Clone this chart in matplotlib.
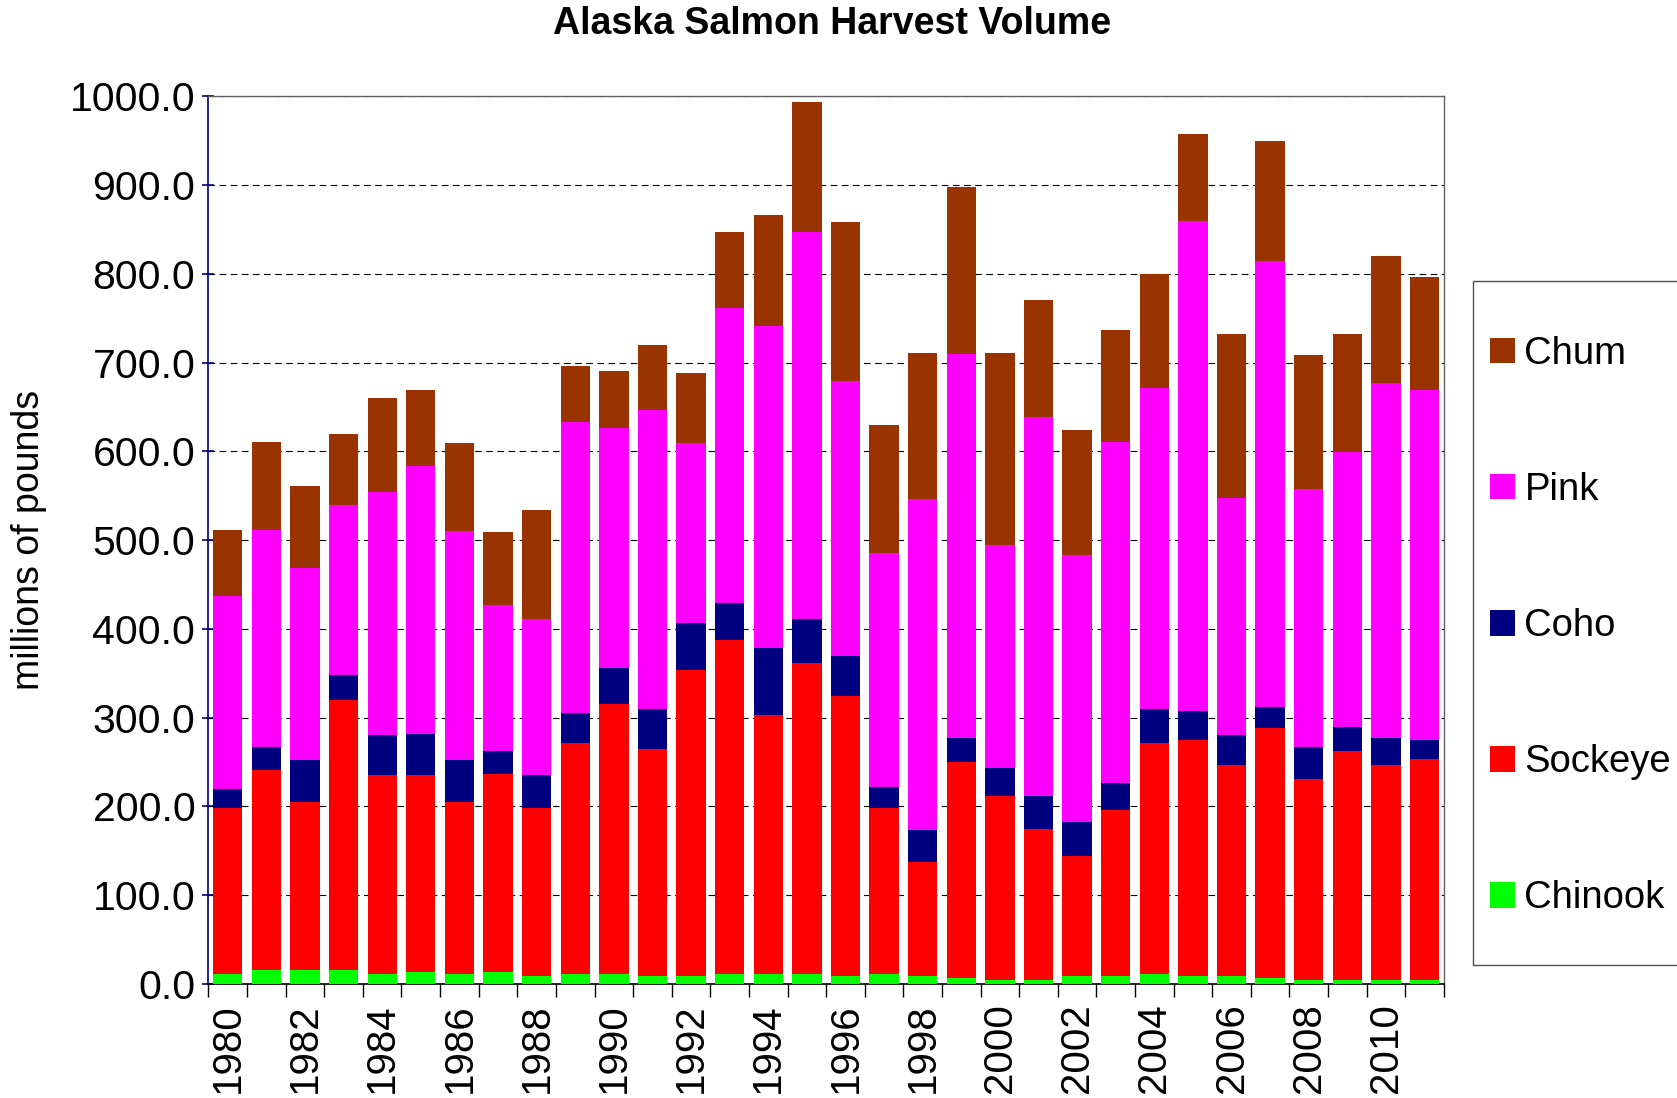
"""
Alaska salmon harvest volume, 1980-2011.
Stacked bars, one per year and one segment per species,
in millions of pounds.
"""

import matplotlib
matplotlib.use("Agg")
import matplotlib.pyplot as plt
from matplotlib.patches import Patch, Rectangle
from matplotlib.ticker import MultipleLocator

plt.rcParams['font.family'] = ['Liberation Sans', 'DejaVu Sans']

years = list(range(1980, 2012))

# millions of pounds per species
chinook = [11, 16, 16, 16, 11, 14, 11, 14, 9, 11, 11, 9, 9, 11, 11, 11,
           9, 11, 9, 7, 5, 5, 9, 9, 11, 9, 9, 7, 5, 5, 5, 5]
sockeye = [187, 225, 189, 304, 224, 221, 194, 223, 189, 260, 304, 256, 345, 377, 292, 351,
           315, 187, 128, 243, 207, 170, 135, 187, 260, 266, 238, 281, 226, 258, 242, 249]
coho = [22, 26, 47, 28, 45, 47, 47, 26, 37, 34, 41, 45, 53, 41, 75, 49,
        45, 24, 37, 27, 31, 37, 38, 31, 39, 32, 33, 24, 36, 27, 30, 21]
pink = [217, 244, 217, 192, 274, 302, 258, 164, 176, 328, 270, 337, 202, 332, 363, 436,
        310, 264, 372, 433, 251, 427, 301, 384, 361, 553, 268, 503, 291, 309, 400, 394]
chum = [74, 100, 92, 80, 106, 85, 99, 82, 123, 63, 64, 73, 79, 86, 125, 147,
        179, 144, 165, 188, 217, 131, 141, 126, 129, 98, 184, 135, 151, 133, 143, 127]

species = ["Chinook", "Sockeye", "Coho", "Pink", "Chum"]
colors = ["#00FF00", "#FF0000", "#000080", "#FF00FF", "#993300"]


def draw_stacked(ax, series):
    """Stack each species on top of the previous ones."""
    x = list(range(len(years)))
    bottom = [0] * len(years)
    for vals, col in zip(series, colors):
        ax.bar(x, vals, bottom=bottom, width=0.76, color=col,
               edgecolor='none', zorder=3)
        bottom = [b + v for b, v in zip(bottom, vals)]


fig = plt.figure(figsize=(16.77, 10.98), dpi=100)
ax = fig.add_axes([0.1243, 0.1038, 0.7367, 0.8085])

draw_stacked(ax, [chinook, sockeye, coho, pink, chum])

ax.set_xlim(-0.5, len(years) - 0.5)
ax.set_ylim(0, 1000)

# y axis
ax.yaxis.set_major_locator(MultipleLocator(100))
ax.yaxis.set_major_formatter(matplotlib.ticker.FormatStrFormatter('%.1f'))
ax.tick_params(axis='y', direction='inout', length=9, width=1.2,
               color='#000080', labelsize=29.5, pad=5)

# x axis: labels every other year, ticks between categories
ax.set_xticks(list(range(0, len(years), 2)))
ax.set_xticklabels([str(y) for y in years[::2]], rotation=90)
ax.set_xticks([i - 0.5 for i in range(len(years) + 1)], minor=True)
ax.tick_params(axis='x', which='major', length=0, labelsize=29, pad=14)
ax.tick_params(axis='x', which='minor', direction='out', length=9,
               width=1.0, color='black')

# dashed gridlines
ax.grid(axis='y', color='black', linestyle=(0, (6, 4)), linewidth=0.8,
        zorder=1)
ax.set_axisbelow(True)

# spines
ax.spines['left'].set_color('#000080')
ax.spines['left'].set_linewidth(1.2)
ax.spines['bottom'].set_color('black')
ax.spines['bottom'].set_linewidth(1.2)
for s in ['top', 'right']:
    ax.spines[s].set_color('#606060')
    ax.spines[s].set_linewidth(1.0)

# title and y label
fig.text(0.496, 1 - 23.5 / 1098, "Alaska Salmon Harvest Volume",
         ha='center', va='center', fontsize=27, fontweight='bold')
fig.text(0.017, 0.508, "millions of pounds", rotation=90,
         ha='center', va='center', fontsize=27)

# legend frame runs off the right edge
fig.patches.append(Rectangle((0.8784, 0.1211), 0.2, 0.623,
                             transform=fig.transFigure, fill=False,
                             edgecolor='#505050', linewidth=1.0))
handles = [Patch(facecolor=c, edgecolor='none', label=s)
           for s, c in zip(species, colors)][::-1]
fig.legend(handles=handles, loc='center left',
           bbox_to_anchor=(0.8885, 0.4297), frameon=False, fontsize=27.5,
           handlelength=0.65, handleheight=0.65, handletextpad=0.25,
           labelspacing=2.62, borderpad=0, borderaxespad=0)

fig.savefig("out.png", dpi=100)
